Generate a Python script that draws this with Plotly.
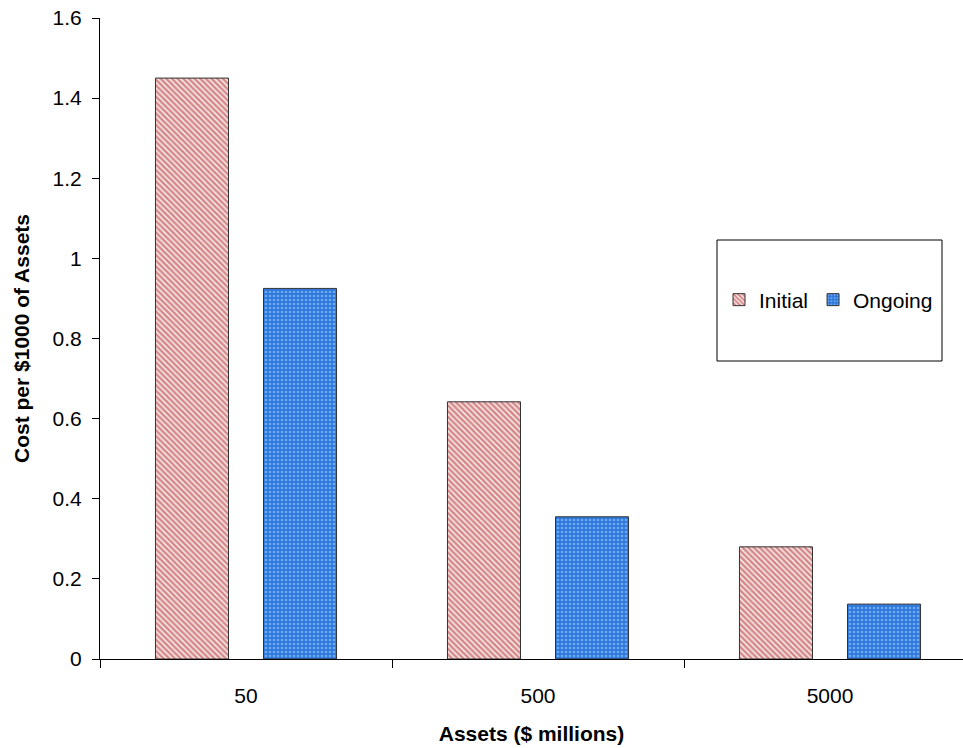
import plotly.graph_objects as go

categories = ["50", "500", "5000"]
initial = [1.45, 0.642, 0.28]
ongoing = [0.925, 0.355, 0.137]
y_ticks = [0, 0.2, 0.4, 0.6, 0.8, 1.0, 1.2, 1.4, 1.6]
y_tick_labels = ["0", "0.2", "0.4", "0.6", "0.8", "1", "1.2", "1.4", "1.6"]

FONT = "Liberation Sans, Arial, sans-serif"
FS = 21

fig = go.Figure()
fig.add_trace(go.Bar(
    x=categories, y=initial, name="Initial",
    marker=dict(
        color="white",
        line=dict(color="#333333", width=1),
        pattern=dict(shape="\\", fgcolor="#A82020", bgcolor="#FFF4F4", size=4, solidity=0.65),
    ),
))
fig.add_trace(go.Bar(
    x=categories, y=ongoing, name="Ongoing",
    marker=dict(
        color="#2E78D8",
        line=dict(color="#333333", width=1),
        pattern=dict(shape=".", fgcolor="#B8D8FF", bgcolor="#2C78DC", size=4, solidity=0.35),
    ),
))

L, T, B, W, H = 100, 18, 89, 963, 748
pw = W - L
ph = H - T - B

def px(x):
    return (x - L) / pw

def py(y):
    return (H - B - y) / ph

fig.add_shape(type="rect", xref="paper", yref="paper",
              x0=px(717), x1=px(942), y0=py(361), y1=py(240),
              line=dict(color="black", width=1), fillcolor="white", layer="below")

fig.update_layout(
    width=W, height=H,
    margin=dict(l=L, r=0, t=T, b=B),
    paper_bgcolor="white", plot_bgcolor="white",
    barmode="group", bargap=0.26, bargroupgap=0.324,
    font=dict(family=FONT, size=FS, color="black"),
    legend=dict(orientation="h", x=px(719), y=py(300), xanchor="left", yanchor="middle",
                bgcolor="rgba(0,0,0,0)", font=dict(size=FS), itemwidth=30,
                traceorder="normal"),
    xaxis=dict(
        type="category",
        range=[-0.5, 2.5 - (976 - 963) / 292],
        showline=True, linecolor="black", linewidth=1,
        ticks="outside", ticklen=8, tickcolor="black", tickson="boundaries",
        showgrid=False,
        tickfont=dict(size=FS),
        ticklabelstandoff=18,
        title=dict(text="<b>Assets ($ millions)</b>", font=dict(size=FS), standoff=20),
    ),
    yaxis=dict(
        range=[0, 1.6],
        tickvals=y_ticks, ticktext=y_tick_labels,
        showline=True, linecolor="black", linewidth=1,
        ticks="outside", ticklen=7, tickcolor="black",
        showgrid=False, zeroline=False,
        tickfont=dict(size=FS),
        ticklabelstandoff=6,
        title=dict(text="<b>Cost per $1000 of Assets</b>", font=dict(size=FS), standoff=17),
    ),
)

fig.write_html("out.html", config={"displayModeBar": False},
               post_script="document.body.style.margin='0';")
